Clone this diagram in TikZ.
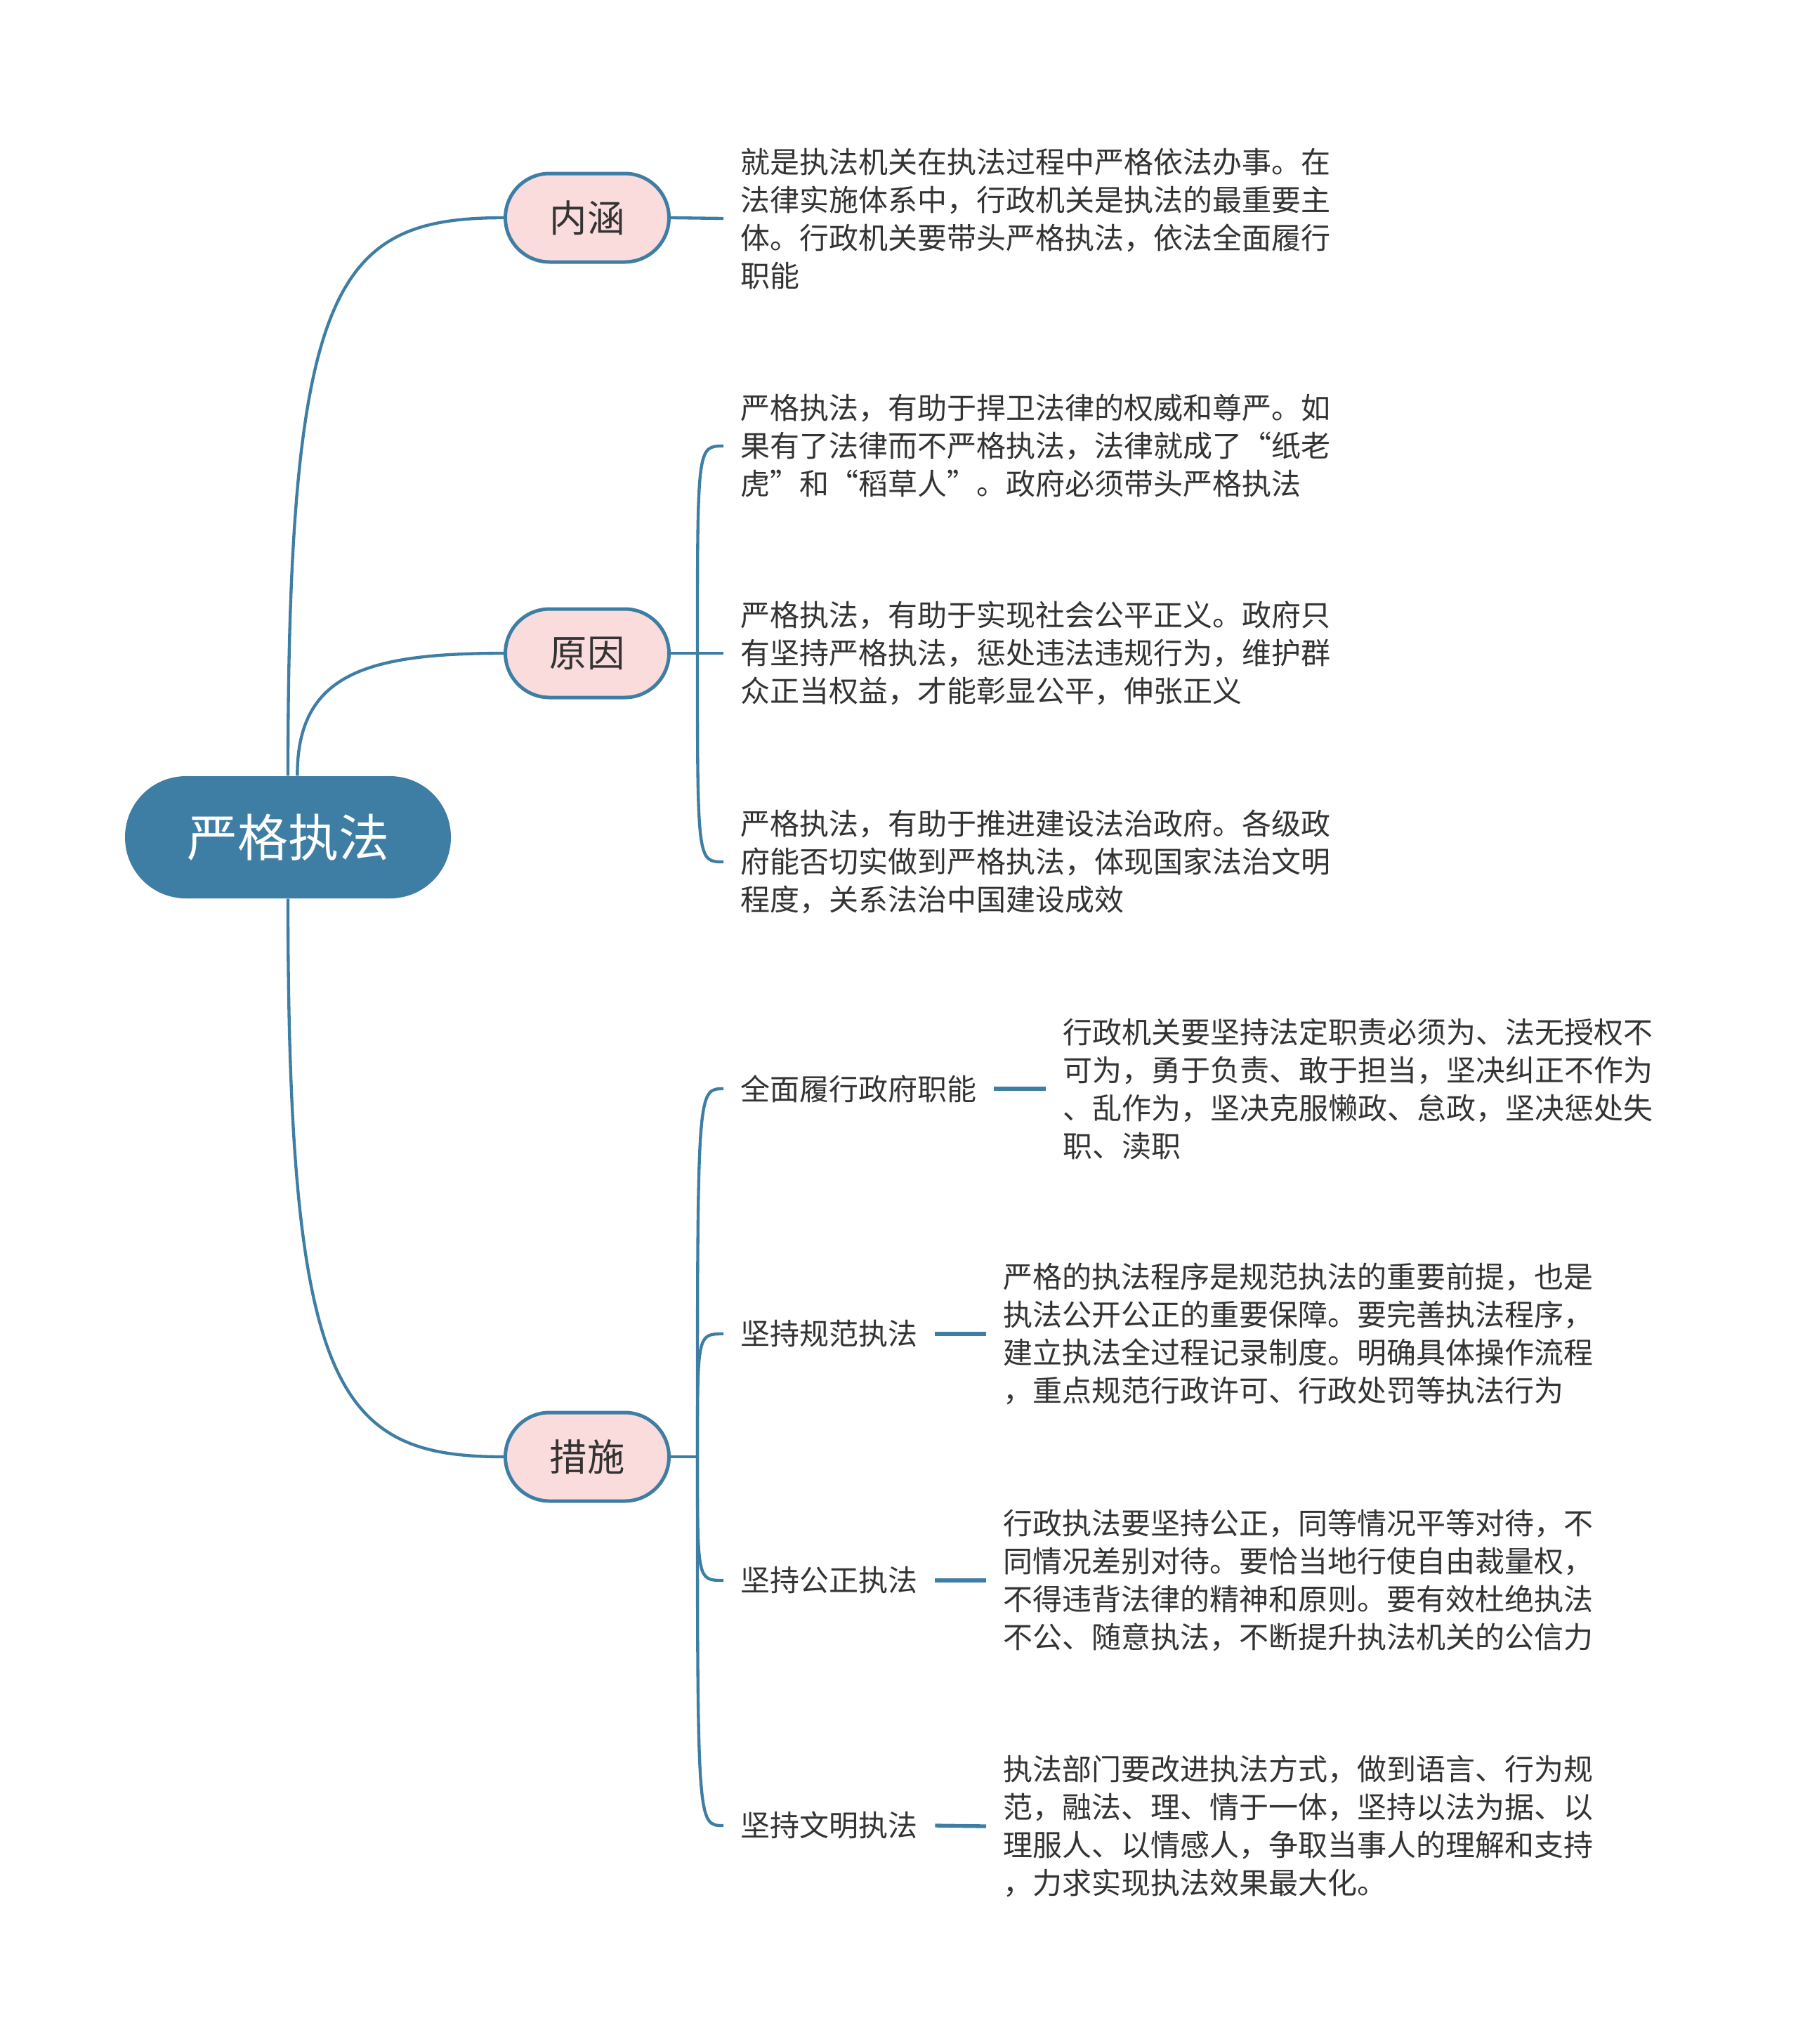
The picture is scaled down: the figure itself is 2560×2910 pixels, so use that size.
\documentclass[tikz,border=0pt]{standalone}
\usepackage{fontspec}
\setmainfont{Noto Sans CJK SC}
\definecolor{lineblue}{HTML}{3F7EA4}
\definecolor{pinkfill}{HTML}{FBDCDC}
\definecolor{textgray}{HTML}{333333}

\begin{document}
\begin{tikzpicture}[x=0.3pt, y=-0.3pt,
  link/.style={draw=lineblue, line width=1.3pt},
  rootbox/.style={fill=lineblue, text=white, rounded corners=26pt, minimum width=139.2pt, minimum height=52.2pt, inner sep=0pt, font=\fontsize{21.6}{26}\selectfont},
  topic/.style={draw=lineblue, line width=1.5pt, fill=pinkfill, text=textgray, rounded corners=18.9pt, minimum width=69.9pt, minimum height=37.8pt, inner sep=0pt, font=\fontsize{16}{20}\selectfont},
  note/.style={anchor=west, align=left, text=textgray, inner xsep=7.2pt, inner ysep=0pt, font=\fontsize{12.6}{16.2}\selectfont},
  sub/.style={anchor=west, text=textgray, inner xsep=7.2pt, inner ysep=0pt, font=\fontsize{12.6}{16}\selectfont}]
\useasboundingbox (0,0) rectangle (2560,2910);

% root and main topics
\node[rootbox] (root) at (410,1192) {严格执法};
\node[topic] (nh) at (836,310) {内涵};
\node[topic] (yy) at (836,930) {原因};
\node[topic] (cs) at (836,2074) {措施};

\draw[link] (root.north) .. controls (410,400) and (480,310) .. (nh.west);
\draw[link] ([xshift=4pt]root.north) .. controls (423,960) and (520,930) .. (yy.west);
\draw[link] (root.south) .. controls (410,1980) and (480,2074) .. (cs.west);

% 内涵
\node[note] (nh1) at (1030,311) {就是执法机关在执法过程中严格依法办事。在\\法律实施体系中，行政机关是执法的最重要主\\体。行政机关要带头严格执法，依法全面履行\\职能};
\draw[link] (nh.east) -- (nh1.west);

% 原因
\coordinate (yyj) at (993,930);
\node[note] (yy1) at (1030,635) {严格执法，有助于捍卫法律的权威和尊严。如\\果有了法律而不严格执法，法律就成了“纸老\\虎”和“稻草人”。政府必须带头严格执法};
\node[note] (yy2) at (1030,930) {严格执法，有助于实现社会公平正义。政府只\\有坚持严格执法，惩处违法违规行为，维护群\\众正当权益，才能彰显公平，伸张正义};
\node[note] (yy3) at (1030,1227) {严格执法，有助于推进建设法治政府。各级政\\府能否切实做到严格执法，体现国家法治文明\\程度，关系法治中国建设成效};
\draw[link] (yy.east) -- (yy2.west);
\draw[link] (yyj) .. controls (yyj |- yy1.west) .. (yy1.west);
\draw[link] (yyj) .. controls (yyj |- yy3.west) .. (yy3.west);

% 措施
\coordinate (csj) at (993,2074);
\node[sub] (cs1) at (1030,1550) {全面履行政府职能};
\node[sub] (cs2) at (1030,1899) {坚持规范执法};
\node[sub] (cs3) at (1030,2250) {坚持公正执法};
\node[sub] (cs4) at (1030,2599) {坚持文明执法};
\draw[link] (cs.east) -- (csj);
\foreach \k in {1,...,4}
  \draw[link] (csj) .. controls (csj |- cs\k.west) .. (cs\k.west);

\node[note] (cs1d) at (1489,1550) {行政机关要坚持法定职责必须为、法无授权不\\可为，勇于负责、敢于担当，坚决纠正不作为\\、乱作为，坚决克服懒政、怠政，坚决惩处失\\职、渎职};
\node[note] (cs2d) at (1404,1899) {严格的执法程序是规范执法的重要前提，也是\\执法公开公正的重要保障。要完善执法程序，\\建立执法全过程记录制度。明确具体操作流程\\，重点规范行政许可、行政处罚等执法行为};
\node[note] (cs3d) at (1404,2250) {行政执法要坚持公正，同等情况平等对待，不\\同情况差别对待。要恰当地行使自由裁量权，\\不得违背法律的精神和原则。要有效杜绝执法\\不公、随意执法，不断提升执法机关的公信力};
\node[note] (cs4d) at (1404,2600) {执法部门要改进执法方式，做到语言、行为规\\范，融法、理、情于一体，坚持以法为据、以\\理服人、以情感人，争取当事人的理解和支持\\，力求实现执法效果最大化。};
\foreach \k in {1,...,4}
  \draw[link, line width=1.6pt] (cs\k.east) -- (cs\k d.west);
\end{tikzpicture}
\end{document}
